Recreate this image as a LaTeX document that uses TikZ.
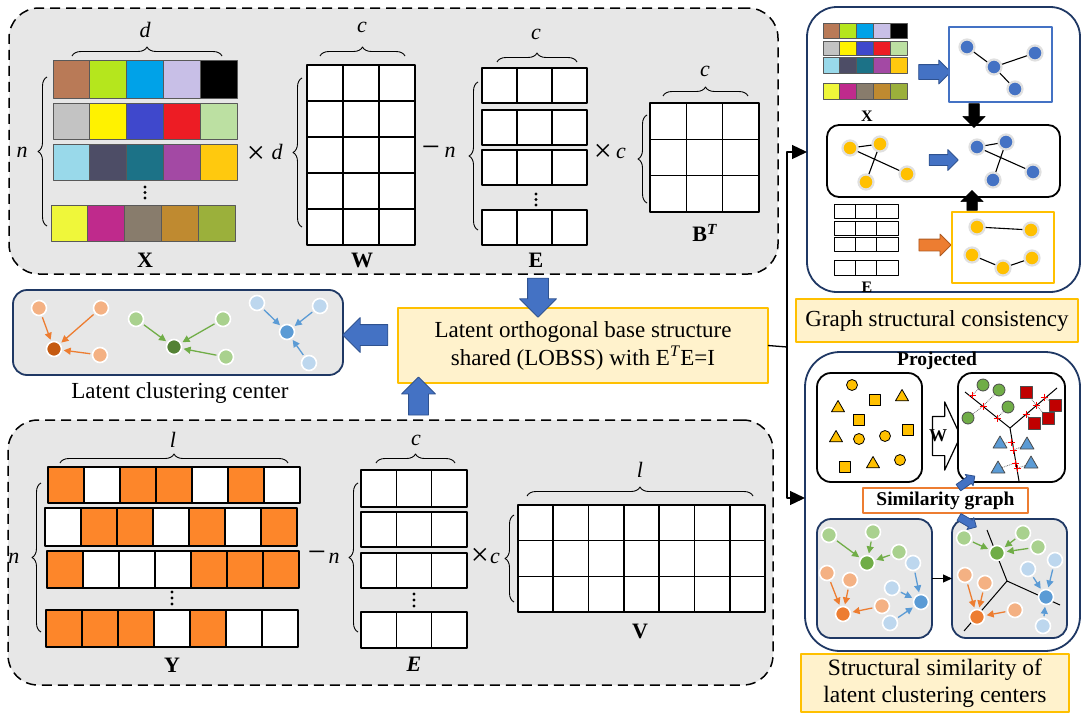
\documentclass[tikz,border=0pt]{standalone}
\usepackage{fontspec}
\setmainfont{Liberation Serif}
\usetikzlibrary{shapes.arrows,shapes.geometric,decorations.pathreplacing,arrows.meta,calc}

\definecolor{pgray}{HTML}{E7E7E7}
\definecolor{navy}{HTML}{1F3864}
\definecolor{gold}{HTML}{FFC000}
\definecolor{lyel}{HTML}{FFF2CC}
\definecolor{ablue}{HTML}{4472C4}
\definecolor{ablueD}{HTML}{2F528F}
\definecolor{aorange}{HTML}{ED7D31}
\definecolor{aorangeD}{HTML}{AE5A21}
\definecolor{yorange}{HTML}{FD862A}
\definecolor{ynode}{HTML}{FFC000}
\definecolor{lgreen}{HTML}{A9D18E}
\definecolor{mgreen}{HTML}{70AD47}
\definecolor{dgreen}{HTML}{548235}
\definecolor{lblue}{HTML}{BDD7EE}
\definecolor{mblue}{HTML}{5B9BD5}
\definecolor{lorange}{HTML}{F4B183}
\definecolor{morange}{HTML}{ED7D31}
\definecolor{dorange}{HTML}{C55A11}
\definecolor{dred}{HTML}{C00000}

% coloured row: x0, y0, y1, cell width, colours
\newcommand\colrow[5]{%
  \foreach \mycc [count=\ka from 0] in {#5}{%
    \edef\tmpdef{\noexpand\definecolor{tmpc}{HTML}{\mycc}}\tmpdef
    \filldraw[fill=tmpc, draw=black!65, line width=0.7pt] ({#1+\ka*#4},#2) rectangle ({#1+(\ka+1)*#4},#3);
  }}
% grid: x0,y0,x1,y1,ncols,nrows,line width
\newcommand\mgrid[7]{%
  \foreach \ka in {1,...,#5}{\foreach \kb in {1,...,#6}{%
    \filldraw[fill=white,draw=black,line width=#7]
      ({#1+(\ka-1)*(#3-#1)/#5},{#2+(\kb-1)*(#4-#2)/#6}) rectangle ({#1+\ka*(#3-#1)/#5},{#2+\kb*(#4-#2)/#6});}}}
% orange/white row: x0, y0, y1, pattern
\newcommand\yrow[4]{%
  \foreach \yb [count=\ka from 0] in {#4}{%
    \ifnum\yb=1 \def\fc{yorange}\else\def\fc{white}\fi
    \filldraw[fill=\fc, draw=black, line width=1.8pt] ({#1+\ka*36},#2) rectangle ({#1+(\ka+1)*36},#3);
  }}
% three dots
\newcommand\vdts[3]{\foreach \ka in {0,1,2}{\fill ({#1},{#2+\ka*#3}) circle (1.7);}}

\tikzset{
  panel/.style={draw=black, dash pattern=on 10pt off 6pt, line width=1.5pt, fill=pgray, rounded corners=30pt, inner sep=0pt, outer sep=0pt},
  yelbox/.style={draw=gold, fill=lyel, line width=2.2pt, inner sep=0pt, outer sep=0pt, align=center},
  lab/.style={font=\fontsize{22}{24}\selectfont\itshape, inner sep=0pt},
  mlab/.style={font=\fontsize{22}{24}\selectfont\bfseries, inner sep=0pt},
  opsym/.style={font=\fontsize{32}{34}\selectfont, inner sep=0pt},
  brc/.style={decorate, decoration={brace, amplitude=9pt}, line width=0.9pt},
  blockarr/.style={single arrow, inner xsep=0pt, outer sep=0pt, single arrow head extend=#1, single arrow tip angle=90},
  bluearr/.style={blockarr=#1, fill=ablue, draw=ablueD, line width=0.8pt},
  blackarr/.style={blockarr=#1, fill=black, draw=black, line width=0.5pt},
  gnodeB/.style={circle, fill=ablue, draw=black!12, line width=2.2pt, minimum size=15pt, inner sep=0pt},
  gnodeY/.style={circle, fill=ynode, draw=black!12, line width=2.2pt, minimum size=15pt, inner sep=0pt},
  gedge/.style={line width=1.1pt},
  cnode/.style={circle, fill=#1, draw=white, line width=1.6pt, minimum size=15pt, inner sep=0pt},
  carr/.style={draw=#1, line width=1.3pt, -{Triangle[length=7pt,width=7pt]}, shorten >=1.5pt, shorten <=1.5pt},
  ycirc/.style={circle, fill=ynode, draw=black, line width=0.8pt, minimum size=11pt, inner sep=0pt},
  ysq/.style={rectangle, fill=ynode, draw=black, line width=0.8pt, minimum size=11pt, inner sep=0pt},
  ytri/.style={regular polygon, regular polygon sides=3, fill=ynode, draw=black, line width=0.8pt, minimum size=15pt, inner sep=0pt},
  gcirc/.style={circle, fill=mgreen, draw=black!70, line width=0.8pt, minimum size=12pt, inner sep=0pt},
  rsq/.style={rectangle, fill=dred, draw=black!70, line width=0.8pt, minimum size=12pt, inner sep=0pt},
  btri/.style={regular polygon, regular polygon sides=3, fill=mblue, draw=black!70, line width=0.8pt, minimum size=16pt, inner sep=0pt},
  dotl/.style={densely dotted, line width=0.8pt, black!60},
  pics/rplus/.style={code={\draw[red, line width=1pt] (-3.5,0) -- (3.5,0) (0,-3.5) -- (0,3.5);}},
  conn/.style={line width=1.3pt},
}

\begin{document}
\begin{tikzpicture}[x=1pt,y=-1pt,line join=round]
\useasboundingbox[fill=white] (0,0) rectangle (1084,720);

% ================= panels =================
\node[panel, minimum width=769pt, minimum height=266pt] (toppanel) at (393.5,141) {};
\node[panel, minimum width=765pt, minimum height=265pt] (botpanel) at (390.5,552.5) {};

% ================= top panel =================
\colrow{53}{60}{98}{36.8}{B97A57,B5E61D,00A2E8,C8BFE7,000000}
\colrow{53}{103}{139}{36.8}{C3C3C3,FFF200,3F48CC,ED1C24,BCE0A2}
\colrow{53}{144}{180}{36.8}{99D9EA,4D4D66,1C7287,A349A4,FFC90E}
\colrow{51}{205}{241}{36.8}{EFF73A,BF2A8C,887C6C,BF8A30,9BB03B}
\vdts{145}{187}{5.5}
\draw[brc] (72,56) -- (222,56);
\node[lab] (ld1) at (145,30) {d};
\draw[brc] (47,226) -- (47,77);
\node[lab] (ln1) at (22,152) {n};
\node[mlab] (lX) at (145,260) {X};

\node[opsym] (tim1) at (256,155) {×};
\node[lab] (ld2) at (277,152) {d};
\draw[brc] (302,227) -- (302,78);
\mgrid{307}{65}{415}{245}{3}{5}{1.6pt}
\draw[brc] (320,56) -- (405,56);
\node[lab] (lc1) at (362,27) {c};
\node[mlab] (lW) at (362,260) {W};

\node[opsym] (min1) at (431,152) {−};
\node[lab] (ln2) at (450,152) {n};
\draw[brc] (478,230) -- (478,82);
\mgrid{482}{68}{587}{103}{3}{1}{1.6pt}
\mgrid{482}{110}{587}{145}{3}{1}{1.6pt}
\mgrid{482}{150}{587}{185}{3}{1}{1.6pt}
\mgrid{482}{210}{587}{245}{3}{1}{1.6pt}
\vdts{536}{194}{5.5}
\draw[brc] (497,62) -- (577,62);
\node[lab] (lc2) at (536,34) {c};
\node[mlab] (lE) at (536,260) {E};

\node[opsym] (tim2) at (603,153) {×};
\node[lab] (lc3) at (621,153) {c};
\draw[brc] (647,203) -- (647,115);
\mgrid{650}{103}{759}{212}{3}{3}{1.6pt}
\draw[brc] (663,96) -- (748,96);
\node[lab] (lc4) at (705,71) {c};
\node[mlab] (lB) at (705,233) {B\textsuperscript{\textit{T}}};

% ================= bottom panel =================
\yrow{48}{467}{503}{1,0,1,1,0,1,0}
\yrow{45}{508}{546}{0,1,1,0,1,0,1}
\yrow{47}{551}{588}{1,0,0,0,1,1,1}
\yrow{46}{610}{647}{1,1,1,0,1,0,0}
\vdts{172}{592}{6}
\draw[brc] (60,463) -- (288,463);
\node[lab] (ll1) at (173,440) {l};
\draw[brc] (41,632) -- (41,483);
\node[lab] (ln3) at (14,558) {n};
\node[mlab] (lY) at (172,665) {Y};

\node[opsym] (min2) at (317,557) {−};
\node[lab] (ln4) at (334,558) {n};
\draw[brc] (358,632) -- (358,483);
\mgrid{361}{470}{467}{507}{3}{1}{1.6pt}
\mgrid{361}{512}{467}{547}{3}{1}{1.6pt}
\mgrid{361}{553}{467}{588}{3}{1}{1.6pt}
\mgrid{361}{612}{467}{648}{3}{1}{1.6pt}
\vdts{414}{594}{6}
\draw[brc] (376,463) -- (455,463);
\node[lab] (lc5) at (416,440) {c};
\node[mlab, font=\fontsize{22}{24}\selectfont\bfseries\itshape] (lE2) at (414,664) {E};

\node[opsym] (tim3) at (480,557) {×};
\node[lab] (lc6) at (495,558) {c};
\draw[brc] (514,602) -- (514,515);
\mgrid{518}{505}{765}{612}{7}{3}{1.6pt}
\draw[brc] (527,496) -- (753,496);
\node[lab] (ll2) at (640,470) {l};
\node[mlab] (lV) at (640,631) {V};

% ================= middle =================
\node[draw=navy, fill=pgray, line width=1.8pt, rounded corners=14pt, minimum width=330pt, minimum height=85pt, inner sep=0pt, outer sep=0pt] (latent) at (178,332.5) {};
\node[cnode=lorange] (o1) at (39,308) {};
\node[cnode=lorange] (o2) at (101,308) {};
\node[cnode=lorange] (o3) at (100,355) {};
\node[cnode=dorange] (oc) at (54,349) {};
\node[cnode=lgreen] (g1) at (136,319) {};
\node[cnode=lgreen] (g2) at (223,319) {};
\node[cnode=lgreen] (g3) at (226,357) {};
\node[cnode=dgreen] (gc) at (174,347) {};
\node[cnode=lblue] (b1) at (257,303) {};
\node[cnode=lblue] (b2) at (320,306) {};
\node[cnode=lblue] (b3) at (309,363) {};
\node[cnode=mblue] (bc) at (287,332) {};
\foreach \n in {o1,o2,o3} \draw[carr=morange] (\n) -- (oc);
\foreach \n in {g1,g2,g3} \draw[carr=mgreen] (\n) -- (gc);
\foreach \n in {b1,b2,b3} \draw[carr=mblue] (\n) -- (bc);
\node[font=\fontsize{23}{26}\selectfont, inner sep=0pt] (lct) at (180,393) {Latent clustering center};

\node[yelbox, minimum width=370pt, minimum height=75pt, font=\fontsize{23}{28}\selectfont] (lobss) at (583,345.5) {Latent orthogonal base structure\\shared (LOBSS) with E\textsuperscript{\textit{T}}E=I};

\node[bluearr=8pt, inner ysep=10pt, minimum height=39pt, rotate=-90] (adown) at (538,292.5) {};
\node[bluearr=7pt, inner ysep=10pt, minimum height=45pt, rotate=180] (aleft) at (370.5,335) {};
\node[bluearr=7pt, inner ysep=9.5pt, minimum height=38pt, rotate=90] (aup) at (418.5,401) {};

% ================= right top panel =================
\node[draw=navy, line width=1.8pt, rounded corners=30pt, minimum width=273pt, minimum height=285pt, inner sep=0pt, outer sep=0pt, fill=white] (rtp) at (943.5,149.5) {};
\colrow{823}{23}{38}{16.8}{B97A57,B5E61D,00A2E8,C8BFE7,000000}
\colrow{823}{41}{55}{16.8}{C3C3C3,FFF200,3F48CC,ED1C24,BCE0A2}
\colrow{823}{57}{73}{16.8}{99D9EA,4D4D66,1C7287,A349A4,FFC90E}
\colrow{823}{83}{99}{16.8}{EFF73A,BF2A8C,887C6C,BF8A30,9BB03B}
\node[font=\fontsize{16}{18}\selectfont\bfseries, inner sep=0pt] (lXs) at (867,116) {X};
\node[bluearr=4.5pt, inner ysep=7pt, minimum height=32pt] (ax) at (931,72) {};
\node[draw=ablue, line width=1.8pt, fill=white, minimum width=103pt, minimum height=75pt, inner sep=0pt, outer sep=0pt] (bluebox) at (1000.5,64.5) {};
\node[gnodeB] (p1) at (967,47) {};
\node[gnodeB] (p2) at (994,67) {};
\node[gnodeB] (p3) at (1035,53) {};
\node[gnodeB] (p4) at (1015,89) {};
\draw[gedge] (p1) -- (p2) -- (p3) (p2) -- (p4);

\node[draw=black, line width=1.8pt, rounded corners=12pt, fill=white, minimum width=233pt, minimum height=72pt, inner sep=0pt, outer sep=0pt] (midbox) at (943.5,161) {};
\node[gnodeY] (q1) at (850,148) {};
\node[gnodeY] (q2) at (880,144) {};
\node[gnodeY] (q3) at (907,174) {};
\node[gnodeY] (q4) at (866,182) {};
\draw[gedge] (q1) -- (q2) -- (q4) (q1) -- (q3);
\node[bluearr=5pt, inner ysep=5pt, minimum height=29pt] (amid) at (941,160) {};
\node[gnodeB] (r1) at (977,147) {};
\node[gnodeB] (r2) at (1006,142) {};
\node[gnodeB] (r3) at (1033,172) {};
\node[gnodeB] (r4) at (993,180) {};
\draw[gedge] (r1) -- (r2) -- (r4) (r1) -- (r3);

\mgrid{834}{204}{898}{218}{3}{1}{1pt}
\mgrid{834}{221}{898}{235}{3}{1}{1pt}
\mgrid{834}{237}{898}{251}{3}{1}{1pt}
\mgrid{834}{260}{898}{275}{3}{1}{1pt}
\node[font=\fontsize{16}{18}\selectfont\bfseries, inner sep=0pt] (lEs) at (867,287) {E};
\node[blockarr=5pt, fill=aorange, draw=aorangeD, line width=0.8pt, inner ysep=5.5pt, minimum height=32pt] (aor) at (932,245) {};
\node[draw=gold, line width=1.8pt, fill=white, minimum width=102pt, minimum height=71pt, inner sep=0pt, outer sep=0pt] (yelgbox) at (1003,247.5) {};
\node[gnodeY] (s1) at (977,227) {};
\node[gnodeY] (s2) at (1031,230) {};
\node[gnodeY] (s3) at (972,255) {};
\node[gnodeY] (s4) at (1003,268) {};
\node[gnodeY] (s5) at (1032,258) {};
\draw[gedge] (s1) -- (s2) (s3) -- (s4) -- (s5);
\node[blackarr=6pt, inner ysep=5pt, minimum height=24pt, rotate=-90] (abd) at (974,113) {};
\node[blackarr=6pt, inner ysep=5pt, minimum height=20pt, rotate=90] (abu) at (972,203) {};

\node[yelbox, minimum width=282pt, minimum height=43pt, font=\fontsize{23}{26}\selectfont] (gsc) at (937,320.5) {Graph structural consistency};

% ================= right bottom panel =================
\node[draw=navy, line width=1.8pt, rounded corners=35pt, minimum width=275pt, minimum height=299pt, inner sep=0pt, outer sep=0pt, fill=white] (rbp) at (942.5,501.5) {};
\node[font=\fontsize{19.5}{21}\selectfont\bfseries, inner sep=0pt] (lproj) at (937,361) {Projected};

\node[draw=black, line width=1.8pt, rounded corners=14pt, fill=white, minimum width=105pt, minimum height=109pt, inner sep=0pt, outer sep=0pt] (projL) at (869.5,427.5) {};
\node[ycirc] (y1) at (852,385) {};
\node[ysq] (y2) at (875,400) {};
\node[ytri] (y3) at (902,397) {};
\node[ytri] (y4) at (838,408) {};
\node[ysq] (y5) at (859,420) {};
\node[ytri] (y6) at (836,438) {};
\node[ycirc] (y7) at (859,439) {};
\node[ycirc] (y8) at (885,436) {};
\node[ysq] (y9) at (908,430) {};
\node[ysq] (y10) at (845,467) {};
\node[ytri] (y11) at (873,464) {};
\node[ycirc] (y12) at (900,460) {};

\node[single arrow, draw=black, fill=white, line width=1.2pt, inner xsep=0pt, inner ysep=19pt, minimum height=28pt, single arrow head extend=14.5pt, single arrow tip angle=130, outer sep=0pt] (warr) at (942,436) {};
\node[font=\fontsize{18}{20}\selectfont\bfseries, inner sep=0pt] (lWa) at (938,436) {W};

\node[draw=black, line width=1.8pt, rounded corners=14pt, fill=white, minimum width=107pt, minimum height=109pt, inner sep=0pt, outer sep=0pt] (projR) at (1011.5,427.5) {};
\coordinate (tc) at (1010,428);
\coordinate (t1) at (965,392);
\coordinate (t2) at (1057,388);
\coordinate (t3) at (1019,481);
\draw[line width=1pt] (t1) -- (tc) -- (t2) (tc) -- (t3);
\node[gcirc] (G1) at (983,385) {};
\node[gcirc] (G2) at (999,390) {};
\node[gcirc] (G3) at (1008,407) {};
\node[gcirc] (G4) at (968,418) {};
\node[rsq] (R1) at (1026,392) {};
\node[rsq] (R2) at (1055,405) {};
\node[rsq] (R3) at (1048,418) {};
\node[rsq] (R4) at (1034,423) {};
\node[btri] (T1) at (1000,444) {};
\node[btri] (T2) at (1027,445) {};
\node[btri] (T3) at (998,469) {};
\node[btri] (T4) at (1031,464) {};
\coordinate (m1) at (972,395);
\coordinate (m2) at (983,406);
\coordinate (m3) at (997,418);
\coordinate (m4) at (1026,414);
\coordinate (m5) at (1036,405);
\coordinate (m6) at (1044,397);
\coordinate (m7) at (1011,442);
\coordinate (m8) at (1013,450);
\coordinate (m9) at (1015,463);
\coordinate (m10) at (1017,468);
\draw[dotl] (G1) -- (m1) (G2) -- (m2) (G3) -- (m3) (G4) -- (m2)
  (R1) -- (m5) (R2) -- (m6) (R3) -- (m5) (R4) -- (m4)
  (T1) -- (m7) (T2) -- (m8) (T3) -- (m9) (T4) -- (m10);
\foreach \m in {m1,m2,m3,m4,m5,m6,m7,m8,m9,m10} \pic at (\m) {rplus};

\node[draw=aorange, fill=white, line width=1.2pt, minimum width=165pt, minimum height=25pt, inner sep=0pt, font=\fontsize{19.5}{21}\selectfont\bfseries] (simg) at (945.5,500.5) {Similarity graph};

\node[draw=navy, fill=pgray, line width=1.8pt, rounded corners=14pt, minimum width=115pt, minimum height=119pt, inner sep=0pt, outer sep=0pt] (clL) at (874.5,578.5) {};
\node[draw=navy, fill=pgray, line width=1.8pt, rounded corners=14pt, minimum width=115pt, minimum height=119pt, inner sep=0pt, outer sep=0pt] (clR) at (1009.5,578.5) {};
\draw[line width=1.2pt, -{Triangle[length=9pt,width=8pt]}] (clL.east) -- (clR.west);

\node[bluearr=3pt, inner ysep=3.5pt, minimum height=20pt, rotate=35] (asg1) at (965,483) {};
\node[bluearr=3pt, inner ysep=3.5pt, minimum height=20pt, rotate=-30] (asg2) at (966,521) {};

\node[cnode=lgreen] (Lg1) at (829,535) {};
\node[cnode=lgreen] (Lg2) at (873,532) {};
\node[cnode=lgreen] (Lg3) at (899,552) {};
\node[cnode=mgreen] (Lgc) at (867,563) {};
\node[cnode=lblue] (Lb1) at (913,563) {};
\node[cnode=lblue] (Lb2) at (892,588) {};
\node[cnode=lblue] (Lb3) at (890,623) {};
\node[cnode=mblue] (Lbc) at (921,602) {};
\node[cnode=lorange] (Lo1) at (827,573) {};
\node[cnode=lorange] (Lo2) at (850,580) {};
\node[cnode=lorange] (Lo3) at (882,606) {};
\node[cnode=morange] (Loc) at (843,614) {};
\foreach \n in {Lg1,Lg2,Lg3} \draw[carr=mgreen] (\n) -- (Lgc);
\foreach \n in {Lb1,Lb2,Lb3} \draw[carr=mblue] (\n) -- (Lbc);
\foreach \n in {Lo1,Lo2,Lo3} \draw[carr=morange] (\n) -- (Loc);

\coordinate (uc) at (1007,581);
\coordinate (u1) at (987,530);
\coordinate (u2) at (1060,605);
\coordinate (u3) at (964,631);
\draw[line width=1pt] (u1) -- (uc) -- (u2) (uc) -- (u3);
\node[cnode=lgreen] (Rg1) at (964,538) {};
\node[cnode=lgreen] (Rg2) at (1023,533) {};
\node[cnode=lgreen] (Rg3) at (1038,547) {};
\node[cnode=mgreen] (Rgc) at (997,553) {};
\node[cnode=lblue] (Rb1) at (1055,560) {};
\node[cnode=lblue] (Rb2) at (1028,569) {};
\node[cnode=lblue] (Rb3) at (1043,626) {};
\node[cnode=mblue] (Rbc) at (1046,597) {};
\node[cnode=lorange] (Ro1) at (965,575) {};
\node[cnode=lorange] (Ro2) at (985,583) {};
\node[cnode=lorange] (Ro3) at (1015,610) {};
\node[cnode=morange] (Roc) at (977,617) {};
\foreach \n in {Rg1,Rg2,Rg3} \draw[carr=mgreen] (\n) -- (Rgc);
\foreach \n in {Rb1,Rb2,Rb3} \draw[carr=mblue] (\n) -- (Rbc);
\foreach \n in {Ro1,Ro2,Ro3} \draw[carr=morange] (\n) -- (Roc);

\node[yelbox, minimum width=268pt, minimum height=58pt, font=\fontsize{23.5}{27}\selectfont] (ssl) at (935,683) {Structural similarity of\\latent clustering centers};

% ================= connectors =================
\coordinate (jun) at (787,347);
\coordinate (jt) at (787,152);
\coordinate (jb) at (787,498);
\draw[conn] (lobss.east) -- (jun);
\draw[conn, -{Triangle[length=15pt,width=14pt]}] (jun) -- (jt) -- (rtp.west |- jt);
\draw[conn, -{Triangle[length=15pt,width=14pt]}] (jun) -- (jb) -- (rbp.west |- jb);
\end{tikzpicture}
\end{document}
